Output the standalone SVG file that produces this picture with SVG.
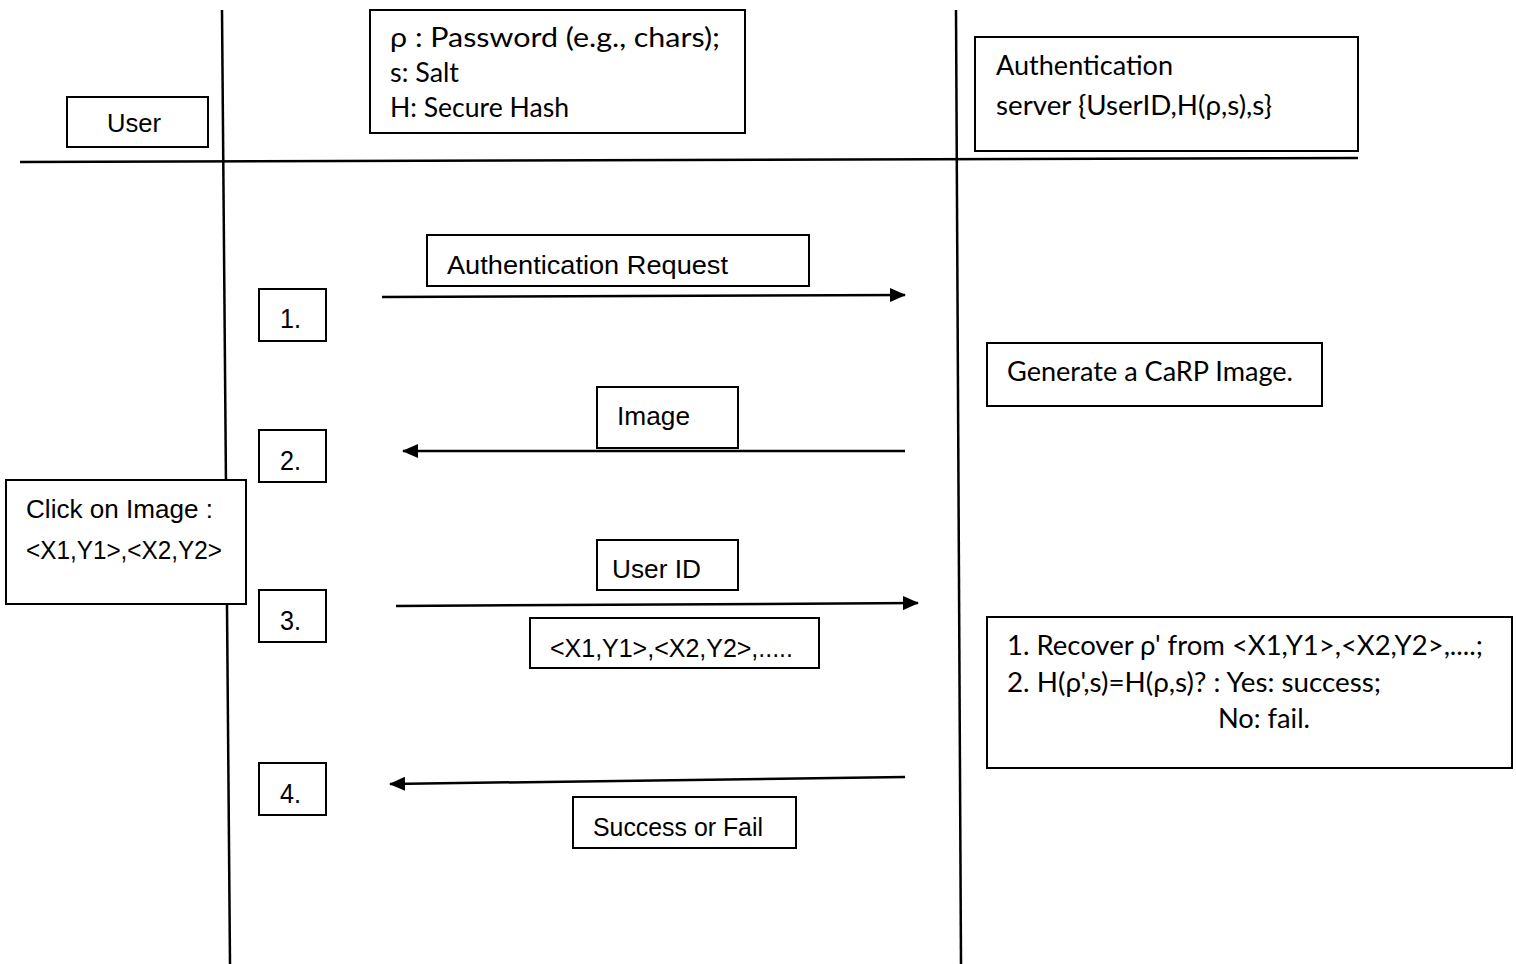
<svg xmlns="http://www.w3.org/2000/svg" width="1516" height="964" viewBox="0 0 1516 964">
<style>
.box{fill:#fff;stroke:#000;stroke-width:2}
.ln{stroke:#000;stroke-width:2.5;fill:none}
.cal{font-family:Lato,"Open Sans","Liberation Sans",sans-serif;font-size:26px;fill:#000}
.nar{font-family:"Liberation Sans",Arial,sans-serif;font-size:26px;fill:#000}
.num{font-family:"Liberation Sans",Arial,sans-serif;font-size:28px;fill:#000}
</style>
<defs>
<marker id="ah" viewBox="0 0 16 14" refX="15" refY="7" markerWidth="16" markerHeight="14" markerUnits="userSpaceOnUse" orient="auto">
<path d="M0,0 L16,7 L0,14 Z" fill="#000"/>
</marker>
</defs>
<rect width="1516" height="964" fill="#fff"/>
<g id="frame">
<line class="ln" x1="222" y1="10" x2="230" y2="964"/>
<line class="ln" x1="956" y1="10" x2="961" y2="964"/>
<line class="ln" x1="20" y1="162" x2="1358" y2="158"/>
</g>
<g id="user"><rect class="box" x="67" y="97" width="141" height="50"/><text class="nar" x="107" y="132" textLength="54" lengthAdjust="spacingAndGlyphs">User</text></g>
<g id="legend"><rect class="box" x="370" y="10" width="375" height="123"/>
<text class="cal" x="390" y="47" textLength="330" lengthAdjust="spacingAndGlyphs">ρ : Password (e.g., chars);</text>
<text class="cal" x="390" y="82" textLength="69" lengthAdjust="spacingAndGlyphs">s: Salt</text>
<text class="cal" x="390" y="117" textLength="179" lengthAdjust="spacingAndGlyphs">H: Secure Hash</text></g>
<g id="server"><rect class="box" x="975" y="37" width="383" height="114"/>
<text class="cal" x="996" y="75" textLength="177" lengthAdjust="spacingAndGlyphs">Authentication</text>
<text class="cal" x="996" y="115" textLength="276" lengthAdjust="spacingAndGlyphs">server {UserID,H(ρ,s),s}</text></g>
<g id="connectors">
<line class="ln" x1="382" y1="297" x2="905" y2="295" marker-end="url(#ah)"/>
<line class="ln" x1="905" y1="451" x2="403" y2="451" marker-end="url(#ah)"/>
<line class="ln" x1="396" y1="606" x2="918" y2="603" marker-end="url(#ah)"/>
<line class="ln" x1="905" y1="777" x2="390" y2="784" marker-end="url(#ah)"/>
</g>
<g id="authreq"><rect class="box" x="427" y="235" width="382" height="51"/><text class="nar" x="447" y="274" textLength="281" lengthAdjust="spacingAndGlyphs">Authentication Request</text></g>
<g id="step1"><rect class="box" x="259" y="289" width="67" height="52"/><text class="num" x="280" y="328" textLength="21" lengthAdjust="spacingAndGlyphs">1.</text></g>
<g id="generate"><rect class="box" x="987" y="343" width="335" height="63"/><text class="cal" x="1007" y="381" textLength="286" lengthAdjust="spacingAndGlyphs">Generate a CaRP Image.</text></g>
<g id="image"><rect class="box" x="597" y="387" width="141" height="61"/><text class="nar" x="617" y="425" textLength="73" lengthAdjust="spacingAndGlyphs">Image</text></g>
<g id="step2"><rect class="box" x="259" y="430" width="67" height="52"/><text class="num" x="280" y="470" textLength="21" lengthAdjust="spacingAndGlyphs">2.</text></g>
<g id="click"><rect class="box" x="6" y="480" width="240" height="124"/>
<text class="nar" x="26" y="518" textLength="187" lengthAdjust="spacingAndGlyphs">Click on Image :</text>
<text class="nar" x="26" y="559" textLength="196" lengthAdjust="spacingAndGlyphs">&lt;X1,Y1&gt;,&lt;X2,Y2&gt;</text></g>
<g id="step3"><rect class="box" x="259" y="590" width="67" height="52"/><text class="num" x="280" y="630" textLength="21" lengthAdjust="spacingAndGlyphs">3.</text></g>
<g id="userid"><rect class="box" x="597" y="540" width="141" height="50"/><text class="nar" x="612" y="578" textLength="89" lengthAdjust="spacingAndGlyphs">User ID</text></g>
<g id="coords"><rect class="box" x="530" y="618" width="289" height="50"/><text class="nar" x="550" y="657" textLength="243" lengthAdjust="spacingAndGlyphs">&lt;X1,Y1&gt;,&lt;X2,Y2&gt;,.....</text></g>
<g id="verify"><rect class="box" x="987" y="617" width="525" height="151"/>
<text class="cal" x="1007" y="655" textLength="476" lengthAdjust="spacingAndGlyphs">1. Recover  ρ' from &lt;X1,Y1&gt;,&lt;X2,Y2&gt;,....;</text>
<text class="cal" x="1007" y="692" textLength="374" lengthAdjust="spacingAndGlyphs">2. H(ρ',s)=H(ρ,s)? : Yes: success;</text>
<text class="cal" x="1218" y="728" textLength="92" lengthAdjust="spacingAndGlyphs">No: fail.</text></g>
<g id="step4"><rect class="box" x="259" y="763" width="67" height="52"/><text class="num" x="280" y="803" textLength="21" lengthAdjust="spacingAndGlyphs">4.</text></g>
<g id="result"><rect class="box" x="573" y="797" width="223" height="51"/><text class="nar" x="593" y="836" textLength="170" lengthAdjust="spacingAndGlyphs">Success or Fail</text></g>
</svg>
